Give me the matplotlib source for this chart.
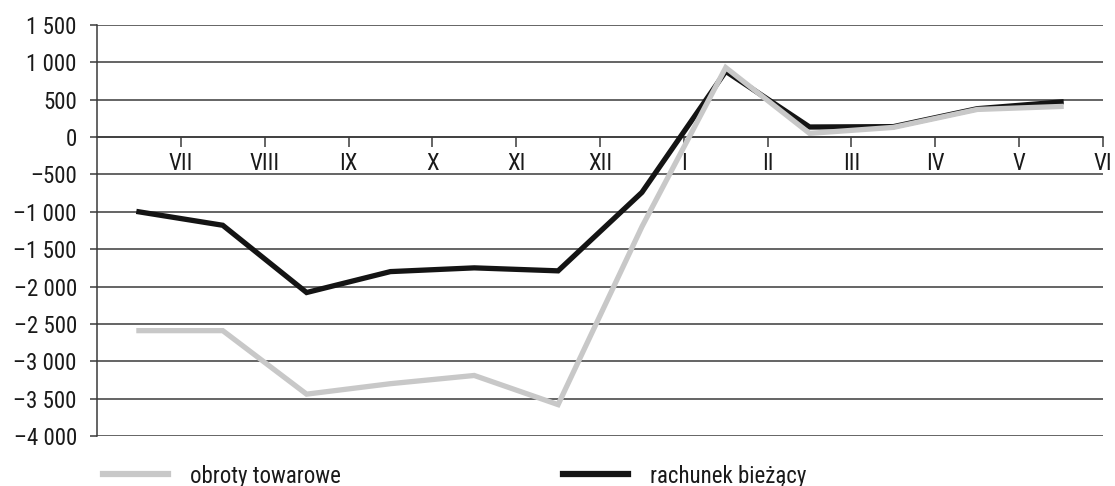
import matplotlib
matplotlib.use("Agg")
import matplotlib.pyplot as plt
from matplotlib.ticker import FixedLocator, FuncFormatter

# Month labels (Roman numerals) and monthly balances
months = ["VII", "VIII", "IX", "X", "XI", "XII", "I", "II", "III", "IV", "V", "VI"]
rachunek_biezacy = [-1000, -1180, -2080, -1800, -1750, -1790, -740, 880, 135, 140, 380, 470]
obroty_towarowe = [-2590, -2590, -3440, -3300, -3190, -3580, -1200, 930, 50, 130, 370, 410]
y_ticks = list(range(-4000, 1501, 500))

plt.rcParams["font.family"] = ["Roboto Condensed", "DejaVu Sans"]
FS = 16.5

W, H = 1115, 486
fig = plt.figure(figsize=(W / 100, H / 100), dpi=100)
ax = fig.add_axes([97 / W, 1 - 436 / H, (1103 - 97) / W, (436 - 25) / H])

x = list(range(len(months)))
ax.plot(x, rachunek_biezacy, color="#141414", lw=3.8, solid_joinstyle="miter", zorder=3)
ax.plot(x, obroty_towarowe, color="#c8c8c8", lw=3.8, solid_joinstyle="miter", zorder=4)

ax.set_xlim(-0.5, len(months) - 0.5)
ax.set_ylim(-4000, 1500)

# horizontal grid
for v in y_ticks:
    ax.axhline(v, color="#3a3a3a", lw=1.1, zorder=1)

for s in ["top", "right"]:
    ax.spines[s].set_visible(False)
ax.spines["left"].set_color("#3a3a3a")
ax.spines["left"].set_linewidth(1.1)
ax.spines["bottom"].set_position(("data", 0))
ax.spines["bottom"].set_color("#3a3a3a")
ax.spines["bottom"].set_linewidth(1.1)

ax.xaxis.set_major_locator(FixedLocator([i + 0.5 for i in x]))
ax.set_xticklabels(months)
ax.tick_params(axis="x", direction="out", length=7.5, width=1.1, color="#3a3a3a",
               labelsize=FS, pad=3, labelcolor="#1a1a1a")

def fmt(v, pos=None):
    s = f"{int(v):,}".replace(",", " ")
    return s.replace("-", "\u2013")

ax.yaxis.set_major_locator(FixedLocator(y_ticks))
ax.yaxis.set_major_formatter(FuncFormatter(fmt))
ax.tick_params(axis="y", direction="out", length=5, width=1.1, color="#3a3a3a",
               labelsize=FS, pad=9.5, labelcolor="#1a1a1a")

# legend entries, laid out as two separate groups along the bottom
(h_g,) = ax.plot([], [], color="#c8c8c8", lw=4.5)
(h_b,) = ax.plot([], [], color="#141414", lw=4.5)
common = dict(loc="center left", frameon=False, fontsize=FS, borderpad=0,
              borderaxespad=0, handlelength=2.85, handletextpad=0.95)
leg1 = fig.legend([h_g], ["obroty towarowe"], bbox_to_anchor=(103 / W, 1 - 476 / H), **common)
leg2 = fig.legend([h_b], ["rachunek bieżący"], bbox_to_anchor=(563 / W, 1 - 476 / H), **common)
for lg in (leg1, leg2):
    for t in lg.get_texts():
        t.set_color("#1a1a1a")

fig.savefig("out.png", dpi=100)
